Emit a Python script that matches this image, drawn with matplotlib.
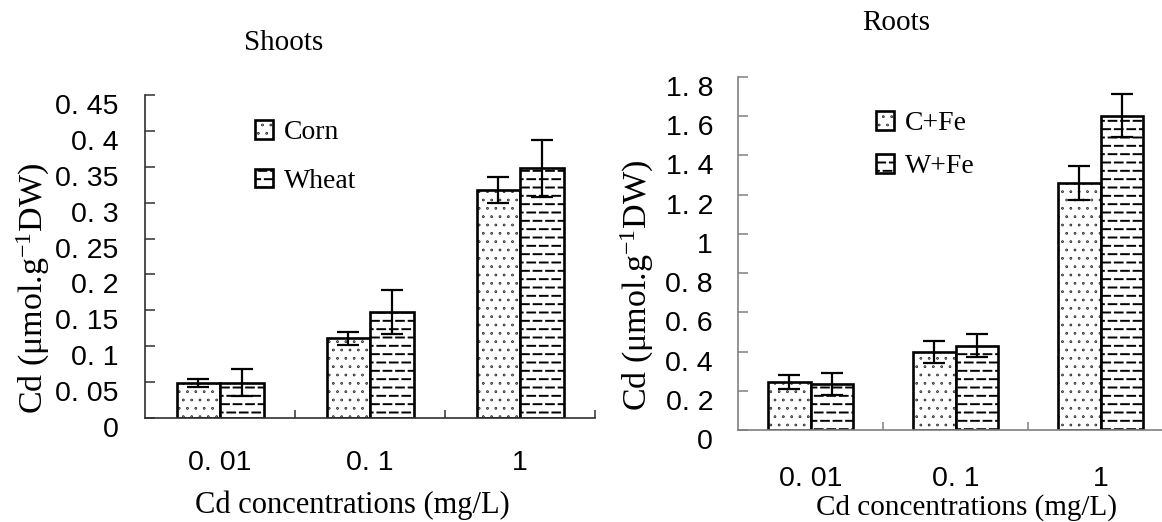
import numpy as np
import matplotlib
matplotlib.use("Agg")
import matplotlib.pyplot as plt
import matplotlib.hatch as mhatch
from matplotlib.path import Path
from matplotlib.transforms import ScaledTranslation

# ---------------- data ----------------
categories = ["0. 01", "0. 1", "1"]

shoot_labels = ["Corn", "Wheat"]
shoot_corn = [0.049, 0.111, 0.318]
shoot_corn_err = [0.006, 0.009, 0.018]
shoot_wheat = [0.049, 0.148, 0.348]
shoot_wheat_err = [0.019, 0.031, 0.040]

root_labels = ["C+Fe", "W+Fe"]
root_c = [0.245, 0.400, 1.260]
root_c_err = [0.036, 0.056, 0.088]
root_w = [0.235, 0.430, 1.602]
root_w_err = [0.056, 0.060, 0.110]

shoot_yticks = [0, 0.05, 0.1, 0.15, 0.2, 0.25, 0.3, 0.35, 0.4, 0.45]
root_yticks = [0, 0.2, 0.4, 0.6, 0.8, 1.0, 1.2, 1.4, 1.6, 1.8]


# ---------------- dashed-row hatch (replaces plain '-' lines) ----------------
class DashedRows(mhatch.HatchPatternBase):
    n_dash = 8
    frac = 0.62

    def __init__(self, hatch, density):
        self.num_lines = int((hatch.count('-') + hatch.count('+')) * density)
        n = self.n_dash
        rows_even = (self.num_lines + 1) // 2
        rows_odd = self.num_lines // 2
        self.num_vertices = 2 * (rows_even * n + rows_odd * (n + 1))

    def set_vertices_and_codes(self, vertices, codes):
        n = self.n_dash
        p = 1.0 / n
        half = self.frac * p / 2
        segs = []
        for i in range(self.num_lines):
            y = (i + 0.5) / self.num_lines
            if i % 2 == 0:
                centers = (np.arange(n) + 0.5) * p
            else:
                centers = np.arange(n + 1) * p
            for c in centers:
                segs.append((max(c - half, 0.0), min(c + half, 1.0), y))
        segs = np.array(segs)
        vertices[0::2, 0] = segs[:, 0]
        vertices[0::2, 1] = segs[:, 2]
        vertices[1::2, 0] = segs[:, 1]
        vertices[1::2, 1] = segs[:, 2]
        codes[0::2] = Path.MOVETO
        codes[1::2] = Path.LINETO


class TinyDots(mhatch.SmallFilledCircles):
    size = 0.04


mhatch._hatch_types = [DashedRows if t is mhatch.HorizontalHatch else
                       (TinyDots if t is mhatch.SmallFilledCircles else t)
                       for t in mhatch._hatch_types]

plt.rcParams['font.family'] = ['Liberation Sans', 'DejaVu Sans']
plt.rcParams['mathtext.fontset'] = 'custom'
plt.rcParams['mathtext.rm'] = 'Liberation Serif'
plt.rcParams['mathtext.it'] = 'Liberation Serif:italic'
plt.rcParams['mathtext.bf'] = 'Liberation Serif:bold'
plt.rcParams['hatch.linewidth'] = 1.4
plt.rcParams['hatch.color'] = '#222222'

W, H = 1162, 522
fig = plt.figure(figsize=(W / 100, H / 100), dpi=100)

serif = ['Liberation Serif', 'DejaVu Serif']


def fx(px):
    return px / W


def fy(py):
    return 1 - py / H


def panel(rect, s1, e1, s2, e2, labels, yticks, ymax, spine_col, tick_pad,
          xpad, leg_anchor, leg_spacing):
    ax = fig.add_axes(rect)
    x = np.arange(len(categories))
    w = 0.29
    ekw = dict(elinewidth=1.6, capthick=1.6, ecolor='black')
    b1 = ax.bar(x - w / 2, s1, w, yerr=e1, capsize=8, color='white',
                edgecolor='black', linewidth=1.9, hatch='..', error_kw=ekw,
                label=labels[0])
    b2 = ax.bar(x + w / 2, s2, w, yerr=e2, capsize=8, color='white',
                edgecolor='black', linewidth=1.9, hatch='--', error_kw=ekw,
                label=labels[1])
    ax.set_xlim(-0.5, 2.5)
    ax.set_ylim(0, ymax)
    for s in ['top', 'right']:
        ax.spines[s].set_visible(False)
    for s in ['left', 'bottom']:
        ax.spines[s].set_color(spine_col)
        ax.spines[s].set_linewidth(1.2)
    ax.set_yticks(yticks)
    ax.set_yticklabels([('%g' % v).replace('.', '. ') for v in yticks],
                       fontsize=20.5)
    ax.tick_params(axis='y', direction='in', length=7.5, width=1.1,
                   color=spine_col, pad=tick_pad)
    ax.set_xticks(x)
    ax.set_xticklabels(categories, fontsize=20.5)
    ax.set_xticks([0.5, 1.5, 2.5], minor=True)
    ax.tick_params(axis='x', which='major', length=0, pad=xpad)
    ax.tick_params(axis='x', which='minor', direction='in', length=6,
                   width=1.1, color=spine_col)
    off = ScaledTranslation(0, -9 / 100, fig.dpi_scale_trans)
    for lab in ax.get_yticklabels():
        lab.set_transform(lab.get_transform() + off)
    ax.legend(handles=[b1, b2], labels=labels, loc='upper left',
              bbox_to_anchor=(fx(leg_anchor[0]), fy(leg_anchor[1])),
              bbox_transform=fig.transFigure, frameon=False,
              prop=dict(family=serif, size=20), handlelength=0.65,
              handleheight=0.65, handletextpad=0.38, labelspacing=leg_spacing,
              borderpad=0, borderaxespad=0)
    return ax


ax1 = panel([fx(145), fy(418), 450 / W, 323 / H], shoot_corn, shoot_corn_err,
            shoot_wheat, shoot_wheat_err, shoot_labels, shoot_yticks, 0.45,
            '#303030', 19, 23, (255, 120), 0.85)
ax2 = panel([fx(738), fy(430), 435 / W, 353 / H], root_c, root_c_err,
            root_w, root_w_err, root_labels, root_yticks, 1.8,
            '#808080', 18, 26, (876, 111), 0.65)

ylab = 'Cd (μmol.g$^{\\mathregular{-1}}$DW)'
fig.text(fx(33), fy(288), ylab, rotation=90, ha='center', va='center',
         fontsize=24.5, family=serif)
fig.text(fx(637), fy(285), ylab, rotation=90, ha='center', va='center',
         fontsize=24.5, family=serif)

fig.text(fx(352), fy(505), 'Cd concentrations (mg/L)', ha='center',
         va='center', fontsize=22, family=serif)
fig.text(fx(966), fy(508), 'Cd concentrations (mg/L)', ha='center',
         va='center', fontsize=21, family=serif)

fig.text(fx(284), fy(43), 'Shoots', ha='center', va='center', fontsize=21,
         family=serif)
fig.text(fx(896), fy(23), 'Roots', ha='center', va='center', fontsize=21,
         family=serif)

fig.savefig('out.png', dpi=100)
